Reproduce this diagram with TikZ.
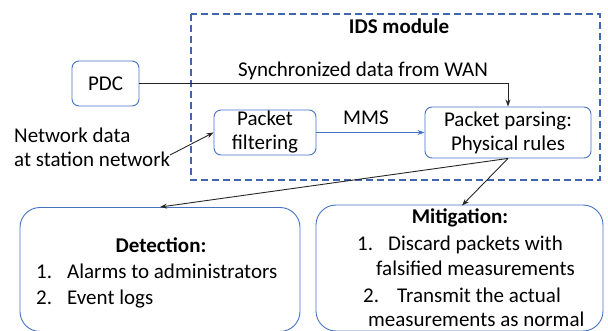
\documentclass[tikz,border=0pt]{standalone}
\usepackage{fontspec}
\setmainfont{Carlito}
\usetikzlibrary{arrows.meta}
\definecolor{boxblue}{HTML}{4472C4}
\definecolor{dashblue}{HTML}{3F66AE}
\definecolor{arrgray}{HTML}{262626}
\begin{document}
\begin{tikzpicture}[x=1pt,y=-1pt,
  every node/.style={font=\fontsize{21}{24}\selectfont, inner sep=0pt},
  smallbox/.style={draw=boxblue, line width=0.9pt, rounded corners=7pt, align=center},
  bigbox/.style={draw=boxblue, line width=0.9pt, rounded corners=20pt},
  conn/.style={draw=arrgray, line width=0.9pt, -{Stealth[length=7pt,width=5pt]}},
  lbl/.style={anchor=base west},
  bold/.style={font=\fontsize{21}{24}\selectfont\bfseries},
  idsbox/.style={draw=dashblue, line width=1.5pt, dash pattern=on 7pt off 4pt},
]
\useasboundingbox (0,0) rectangle (608,331);
% IDS dashed box
\draw[idsbox] (191,14) rectangle (600,180);
\node[bold] (ids) at (399,26) {IDS module};
% nodes
\node[smallbox, minimum width=67pt, minimum height=45pt] (pdc) at (105.5,83.5) {PDC};
\node[smallbox, minimum width=102pt, minimum height=45pt] (filt) at (265,132.5) {Packet\\filtering};
\node[smallbox, minimum width=166pt, minimum height=51pt] (pars) at (508,132.5) {Packet parsing:\\Physical rules};
\node[bigbox, minimum width=280pt, minimum height=124pt] (det) at (160,269.5) {};
\node[bigbox, minimum width=287pt, minimum height=126pt] (mit) at (459.5,268) {};
% text
\node[lbl] (net1) at (14,143) {Network data};
\node[lbl] (net2) at (14,167) {at station network};
\coordinate (netend) at (170,155);
\node (sync) at (363,71) {Synchronized data from WAN};
\node (mms) at (366,118) {MMS};
% detection text
\node[bold] (dt) at (161,245) {Detection:};
\node[lbl] (d1) at (36,279) {1.};
\node[lbl] (d1t) at (67,279) {Alarms to administrators};
\node[lbl] (d2) at (36,304) {2.};
\node[lbl] (d2t) at (67,304) {Event logs};
% mitigation text
\node[bold] (mt) at (460,218) {Mitigation:};
\node[lbl] (m1) at (357,251) {1.};
\node[lbl] (m1t) at (388,251) {Discard packets with};
\node[lbl] (m1b) at (376,276) {falsified measurements};
\node[lbl] (m2) at (363,302) {2.};
\node[lbl] (m2t) at (397,302) {Transmit the actual};
\node[lbl] (m2b) at (368,326) {measurements as normal};
% connectors
\draw[conn] (pdc.east) -| (pars.north);
\draw[draw=boxblue, line width=0.9pt, -{Stealth[length=7pt,width=5pt]}] (filt.east) -- (pars.west);
\draw[conn] (netend) -- (filt.west);
\draw[conn] (pars.south) -- (det.north);
\draw[conn] (pars.south) -- (462,205.5);
\end{tikzpicture}
\end{document}
